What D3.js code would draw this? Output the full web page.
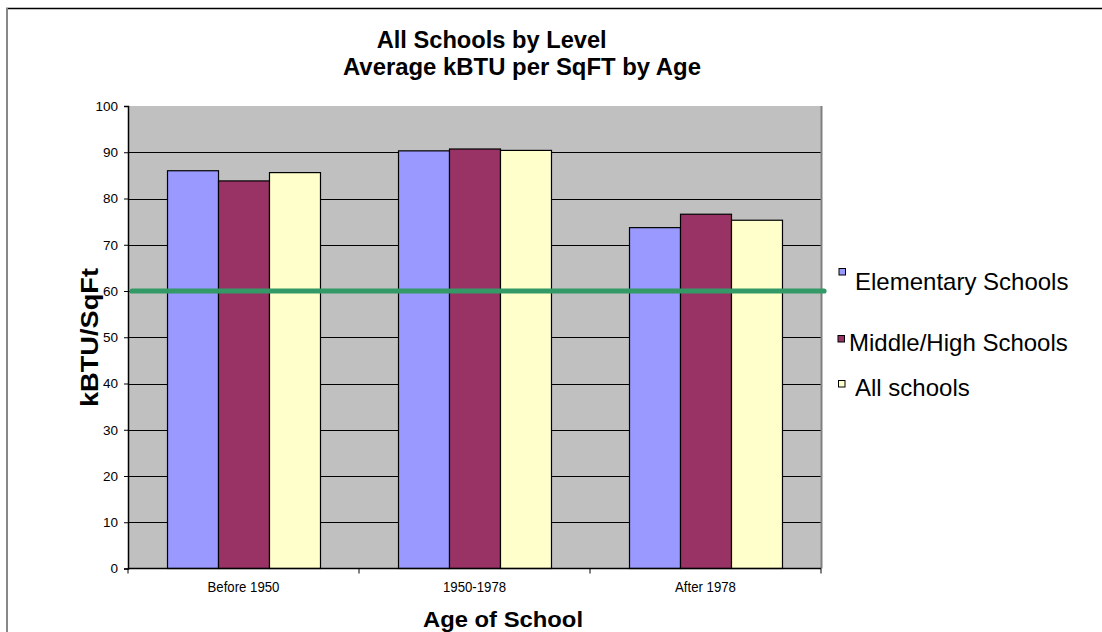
<!DOCTYPE html>
<html>
<head>
<meta charset="utf-8">
<script src="https://cdn.jsdelivr.net/npm/d3@7"></script>
<style>
  html, body { margin: 0; padding: 0; background: #fff; }
  svg { display: block; font-family: "Liberation Sans", Arial, sans-serif; }
</style>
</head>
<body>
<svg id="chart" width="1102" height="632"></svg>
<script>
// Average energy use intensity (kBTU per square foot) by school age and level
const categories = ["Before 1950", "1950-1978", "After 1978"];
const seriesNames = ["Elementary Schools", "Middle/High Schools", "All schools"];
const elementary = [86.0, 90.3, 73.7];
const middleHigh = [83.8, 90.7, 76.6];
const allSchools = [85.6, 90.4, 75.3];
const seriesColors = ["#9999FF", "#993366", "#FFFFCC"];
const targetValue = 60;
const yTicks = [0, 10, 20, 30, 40, 50, 60, 70, 80, 90, 100];

const seriesValues = [elementary, middleHigh, allSchools];

const svg = d3.select("#chart");

// frame edges of the chart object
svg.append("line").attr("x1", 6).attr("x2", 1102).attr("y1", 8.5).attr("y2", 8.5)
  .attr("stroke", "#000").attr("stroke-width", 1.5);
svg.append("line").attr("x1", 7).attr("x2", 7).attr("y1", 8).attr("y2", 632)
  .attr("stroke", "#888").attr("stroke-width", 2);

const plot = { left: 128, right: 821, top: 106, bottom: 568.5 };

const x = d3.scaleBand().domain(categories).range([plot.left, plot.right]).padding(0);
const xs = d3.scaleBand().domain(seriesNames).range([0, x.bandwidth()])
  .paddingInner(0).paddingOuter(0.765);
const y = d3.scaleLinear().domain([0, 100]).range([plot.bottom, plot.top]);

// plot background
svg.append("rect")
  .attr("x", plot.left).attr("y", plot.top)
  .attr("width", plot.right - plot.left).attr("height", plot.bottom - plot.top)
  .attr("fill", "#C0C0C0");

// horizontal gridlines
svg.append("g").selectAll("line")
  .data(yTicks.filter(t => t > 0 && t < 100))
  .join("line")
  .attr("x1", plot.left).attr("x2", plot.right)
  .attr("y1", d => Math.round(y(d)) + 0.5).attr("y2", d => Math.round(y(d)) + 0.5)
  .attr("stroke", "#000").attr("stroke-width", 1);

// right edge of plot area
svg.append("line").attr("x1", plot.right + 0.5).attr("x2", plot.right + 0.5)
  .attr("y1", plot.top).attr("y2", plot.bottom)
  .attr("stroke", "#808080").attr("stroke-width", 2);

// bars
const groups = svg.append("g").selectAll("g")
  .data(categories)
  .join("g")
  .attr("transform", d => `translate(${x(d)},0)`);

groups.selectAll("rect")
  .data((c, ci) => seriesNames.map((s, si) => ({ s, si, v: seriesValues[si][ci] })))
  .join("rect")
  .attr("x", d => xs(d.s) + 0.5)
  .attr("y", d => y(d.v))
  .attr("width", xs.bandwidth())
  .attr("height", d => y(0) - y(d.v))
  .attr("fill", d => seriesColors[d.si])
  .attr("stroke", "#000").attr("stroke-width", 1.2);

// y axis
const yAxis = d3.axisLeft(y).tickValues(yTicks).tickSize(4).tickPadding(6);
const gy = svg.append("g").attr("transform", `translate(${plot.left},0)`).call(yAxis);
gy.select(".domain").attr("stroke", "#000").attr("stroke-width", 1.5);
gy.selectAll(".tick line").attr("stroke", "#000");
gy.selectAll(".tick text")
  .attr("font-size", "13.5px").attr("fill", "#000")
  .attr("font-family", "'Liberation Sans', Arial, sans-serif");

// x axis with ticks at category boundaries
const gx = svg.append("g").attr("transform", `translate(0,${plot.bottom})`);
gx.append("line").attr("x1", plot.left).attr("x2", plot.right)
  .attr("y1", 0).attr("y2", 0).attr("stroke", "#000").attr("stroke-width", 1.5);
const boundaries = categories.map(c => x(c)).concat([x(categories[categories.length - 1]) + x.bandwidth()]);
gx.selectAll("line.tk").data(boundaries).join("line").attr("class", "tk")
  .attr("x1", d => d).attr("x2", d => d).attr("y1", 0).attr("y2", 5)
  .attr("stroke", "#000");
gx.selectAll("text").data(categories).join("text")
  .attr("transform", d => `translate(${x(d) + x.bandwidth() / 2},23.5) scale(1,1.13)`)
  .attr("text-anchor", "middle")
  .attr("font-size", "13.2px")
  .text(d => d);

// target reference line
svg.append("line")
  .attr("x1", plot.left + 4).attr("x2", plot.right + 3)
  .attr("y1", y(targetValue)).attr("y2", y(targetValue))
  .attr("stroke", "#339966").attr("stroke-width", 5.2)
  .attr("stroke-linecap", "round");

// titles
const title = svg.append("g").attr("font-weight", "bold").attr("font-size", "23px");
title.append("text").attr("x", 491.7).attr("y", 48).attr("text-anchor", "middle")
  .attr("textLength", 230).attr("lengthAdjust", "spacingAndGlyphs")
  .text("All Schools by Level");
title.append("text").attr("x", 522).attr("y", 75).attr("text-anchor", "middle")
  .attr("textLength", 358).attr("lengthAdjust", "spacingAndGlyphs")
  .text("Average kBTU per SqFT by Age");

svg.append("text")
  .attr("transform", "translate(98,337.5) rotate(-90)")
  .attr("text-anchor", "middle")
  .attr("font-weight", "bold").attr("font-size", "24px")
  .attr("textLength", 139).attr("lengthAdjust", "spacingAndGlyphs")
  .text("kBTU/SqFt");

svg.append("text")
  .attr("x", 503).attr("y", 626.5)
  .attr("text-anchor", "middle")
  .attr("font-weight", "bold").attr("font-size", "22px")
  .attr("textLength", 160).attr("lengthAdjust", "spacingAndGlyphs")
  .text("Age of School");

// legend
const legendRows = [
  { sx: 839, sy: 268.5, tx: 855, ty: 290 },
  { sx: 838, sy: 335.5, tx: 849, ty: 351 },
  { sx: 838.5, sy: 380.5, tx: 855, ty: 396 }
];
const legend = svg.append("g").selectAll("g").data(seriesNames).join("g");
legend.append("rect")
  .attr("x", (d, i) => legendRows[i].sx).attr("y", (d, i) => legendRows[i].sy)
  .attr("width", 6.5).attr("height", 6.5)
  .attr("fill", (d, i) => seriesColors[i])
  .attr("stroke", "#000").attr("stroke-width", 1);
legend.append("text")
  .attr("x", (d, i) => legendRows[i].tx).attr("y", (d, i) => legendRows[i].ty)
  .attr("font-size", "24px")
  .text(d => d);
</script>
</body>
</html>
